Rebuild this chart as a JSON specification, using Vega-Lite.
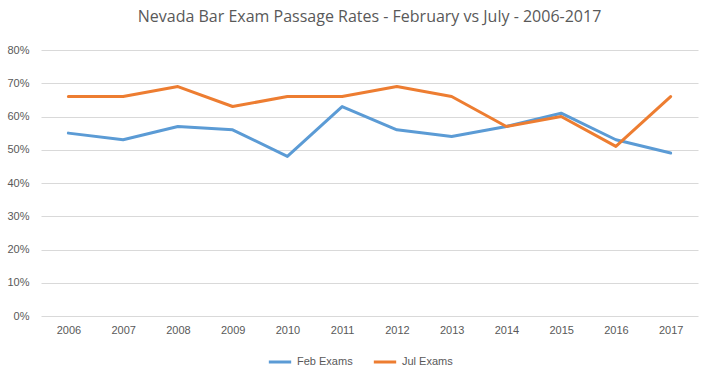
{
  "$schema": "https://vega.github.io/schema/vega-lite/v6.json",
  "width": 657,
  "height": 266,
  "autosize": {"type": "none"},
  "padding": {"left": 41, "top": 50, "right": 4, "bottom": 63},
  "background": "white",
  "title": {
    "text": "Nevada Bar Exam Passage Rates - February vs July - 2006-2017",
    "font": "Open Sans",
    "fontSize": 16,
    "fontWeight": "normal",
    "color": "#595959",
    "anchor": "middle",
    "offset": 19
  },
  "data": {
    "values": [
      {"year": "2006", "series": "Feb Exams", "rate": 0.55},
      {"year": "2007", "series": "Feb Exams", "rate": 0.53},
      {"year": "2008", "series": "Feb Exams", "rate": 0.57},
      {"year": "2009", "series": "Feb Exams", "rate": 0.56},
      {"year": "2010", "series": "Feb Exams", "rate": 0.48},
      {"year": "2011", "series": "Feb Exams", "rate": 0.63},
      {"year": "2012", "series": "Feb Exams", "rate": 0.56},
      {"year": "2013", "series": "Feb Exams", "rate": 0.54},
      {"year": "2014", "series": "Feb Exams", "rate": 0.57},
      {"year": "2015", "series": "Feb Exams", "rate": 0.61},
      {"year": "2016", "series": "Feb Exams", "rate": 0.53},
      {"year": "2017", "series": "Feb Exams", "rate": 0.49},
      {"year": "2006", "series": "Jul Exams", "rate": 0.66},
      {"year": "2007", "series": "Jul Exams", "rate": 0.66},
      {"year": "2008", "series": "Jul Exams", "rate": 0.69},
      {"year": "2009", "series": "Jul Exams", "rate": 0.63},
      {"year": "2010", "series": "Jul Exams", "rate": 0.66},
      {"year": "2011", "series": "Jul Exams", "rate": 0.66},
      {"year": "2012", "series": "Jul Exams", "rate": 0.69},
      {"year": "2013", "series": "Jul Exams", "rate": 0.66},
      {"year": "2014", "series": "Jul Exams", "rate": 0.57},
      {"year": "2015", "series": "Jul Exams", "rate": 0.60},
      {"year": "2016", "series": "Jul Exams", "rate": 0.51},
      {"year": "2017", "series": "Jul Exams", "rate": 0.66}
    ]
  },
  "mark": {"type": "line", "strokeWidth": 3, "strokeCap": "round", "strokeJoin": "round"},
  "encoding": {
    "x": {
      "field": "year",
      "type": "ordinal",
      "scale": {"type": "point", "padding": 0.5},
      "axis": {
        "title": null,
        "labelAngle": 0,
        "ticks": false,
        "domain": false,
        "labelPadding": 8,
        "labelFont": "Liberation Sans",
        "labelFontSize": 11,
        "labelColor": "#595959"
      }
    },
    "y": {
      "field": "rate",
      "type": "quantitative",
      "scale": {"domain": [0, 0.8], "nice": false},
      "axis": {
        "title": null,
        "format": ".0%",
        "values": [0, 0.1, 0.2, 0.3, 0.4, 0.5, 0.6, 0.7, 0.8],
        "ticks": false,
        "domain": false,
        "gridColor": "#d9d9d9",
        "gridWidth": 1,
        "labelPadding": 12,
        "labelFont": "Liberation Sans",
        "labelFontSize": 11,
        "labelColor": "#595959"
      }
    },
    "color": {
      "field": "series",
      "type": "nominal",
      "scale": {"domain": ["Feb Exams", "Jul Exams"], "range": ["#5b9bd5", "#ed7d31"]},
      "legend": {
        "title": null,
        "orient": "none",
        "legendX": 226,
        "legendY": 299,
        "direction": "horizontal",
        "symbolType": "stroke",
        "symbolStrokeWidth": 3,
        "symbolSize": 500,
        "labelFont": "Liberation Sans",
        "labelFontSize": 11,
        "labelColor": "#595959",
        "columnPadding": 14
      }
    }
  },
  "config": {"view": {"stroke": null}}
}
